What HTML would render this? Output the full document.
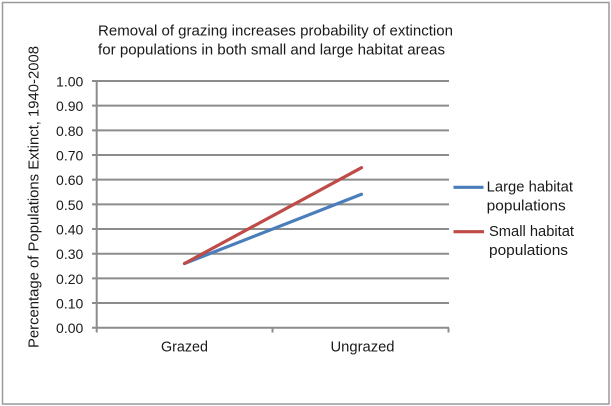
<!DOCTYPE html>
<html>
<head>
<meta charset="utf-8">
<style>
html,body{margin:0;padding:0;background:#fff;}
svg{display:block;}
text{font-family:"Liberation Sans",Arial,sans-serif;fill:#1a1a1a;}
</style>
</head>
<body>
<svg width="611" height="406" viewBox="0 0 611 406" xmlns="http://www.w3.org/2000/svg">
  <rect x="0" y="0" width="611" height="406" fill="#fff"/>
  <rect x="2.5" y="2.5" width="606.5" height="401.5" fill="#fff" stroke="#9a9a9a" stroke-width="1.5"/>

  <!-- Title -->
  <text x="98" y="35.7" font-size="14.5" textLength="355" lengthAdjust="spacingAndGlyphs">Removal of grazing increases probability of extinction</text>
  <text x="98" y="54.3" font-size="14.5" textLength="347" lengthAdjust="spacingAndGlyphs">for populations in both small and large habitat areas</text>

  <!-- Gridlines -->
  <g stroke="#8c8c8c" stroke-width="2">
    <line x1="92" y1="81" x2="449" y2="81"/>
    <line x1="92" y1="105.67" x2="449" y2="105.67"/>
    <line x1="92" y1="130.34" x2="449" y2="130.34"/>
    <line x1="92" y1="155.01" x2="449" y2="155.01"/>
    <line x1="92" y1="179.68" x2="449" y2="179.68"/>
    <line x1="92" y1="204.35" x2="449" y2="204.35"/>
    <line x1="92" y1="229.02" x2="449" y2="229.02"/>
    <line x1="92" y1="253.69" x2="449" y2="253.69"/>
    <line x1="92" y1="278.36" x2="449" y2="278.36"/>
    <line x1="92" y1="303.03" x2="449" y2="303.03"/>
    <line x1="92" y1="327.7" x2="449" y2="327.7"/>
    <!-- y axis -->
    <line x1="96.7" y1="81" x2="96.7" y2="332.5"/>
    <!-- x ticks -->
    <line x1="272.5" y1="327.7" x2="272.5" y2="332.5"/>
    <line x1="448.5" y1="327.7" x2="448.5" y2="332.5"/>
  </g>

  <!-- Y tick labels -->
  <g font-size="14" text-anchor="end">
    <text x="83.3" y="86.5">1.00</text>
    <text x="83.3" y="111.2">0.90</text>
    <text x="83.3" y="135.8">0.80</text>
    <text x="83.3" y="160.5">0.70</text>
    <text x="83.3" y="185.2">0.60</text>
    <text x="83.3" y="209.8">0.50</text>
    <text x="83.3" y="234.5">0.40</text>
    <text x="83.3" y="259.2">0.30</text>
    <text x="83.3" y="283.9">0.20</text>
    <text x="83.3" y="308.5">0.10</text>
    <text x="83.3" y="333.2">0.00</text>
  </g>

  <!-- Y axis title -->
  <text transform="translate(38.5,197) rotate(-90)" font-size="14.5" text-anchor="middle" textLength="302" lengthAdjust="spacingAndGlyphs">Percentage of Populations Extinct, 1940-2008</text>

  <!-- X labels -->
  <text x="184.5" y="351.7" font-size="14.5" text-anchor="middle" textLength="47" lengthAdjust="spacingAndGlyphs">Grazed</text>
  <text x="362.5" y="351.7" font-size="14.5" text-anchor="middle" textLength="64" lengthAdjust="spacingAndGlyphs">Ungrazed</text>

  <!-- Series -->
  <line x1="184.5" y1="263.5" x2="361.5" y2="194.3" stroke="#4a7ebb" stroke-width="3.2" stroke-linecap="round"/>
  <line x1="184.5" y1="263.5" x2="361.5" y2="167.7" stroke="#be4b48" stroke-width="3.2" stroke-linecap="round"/>

  <!-- Legend -->
  <line x1="453.5" y1="187.3" x2="483.5" y2="187.3" stroke="#4a7ebb" stroke-width="3.2"/>
  <text x="486.7" y="191.7" font-size="14.5" textLength="86.3" lengthAdjust="spacingAndGlyphs">Large habitat</text>
  <text x="486.7" y="210.7" font-size="14.5" textLength="79" lengthAdjust="spacingAndGlyphs">populations</text>
  <line x1="453.5" y1="231.7" x2="484" y2="231.7" stroke="#be4b48" stroke-width="3.2"/>
  <text x="489" y="236" font-size="14.5" textLength="85" lengthAdjust="spacingAndGlyphs">Small habitat</text>
  <text x="489" y="255" font-size="14.5" textLength="79" lengthAdjust="spacingAndGlyphs">populations</text>
</svg>
</body>
</html>
